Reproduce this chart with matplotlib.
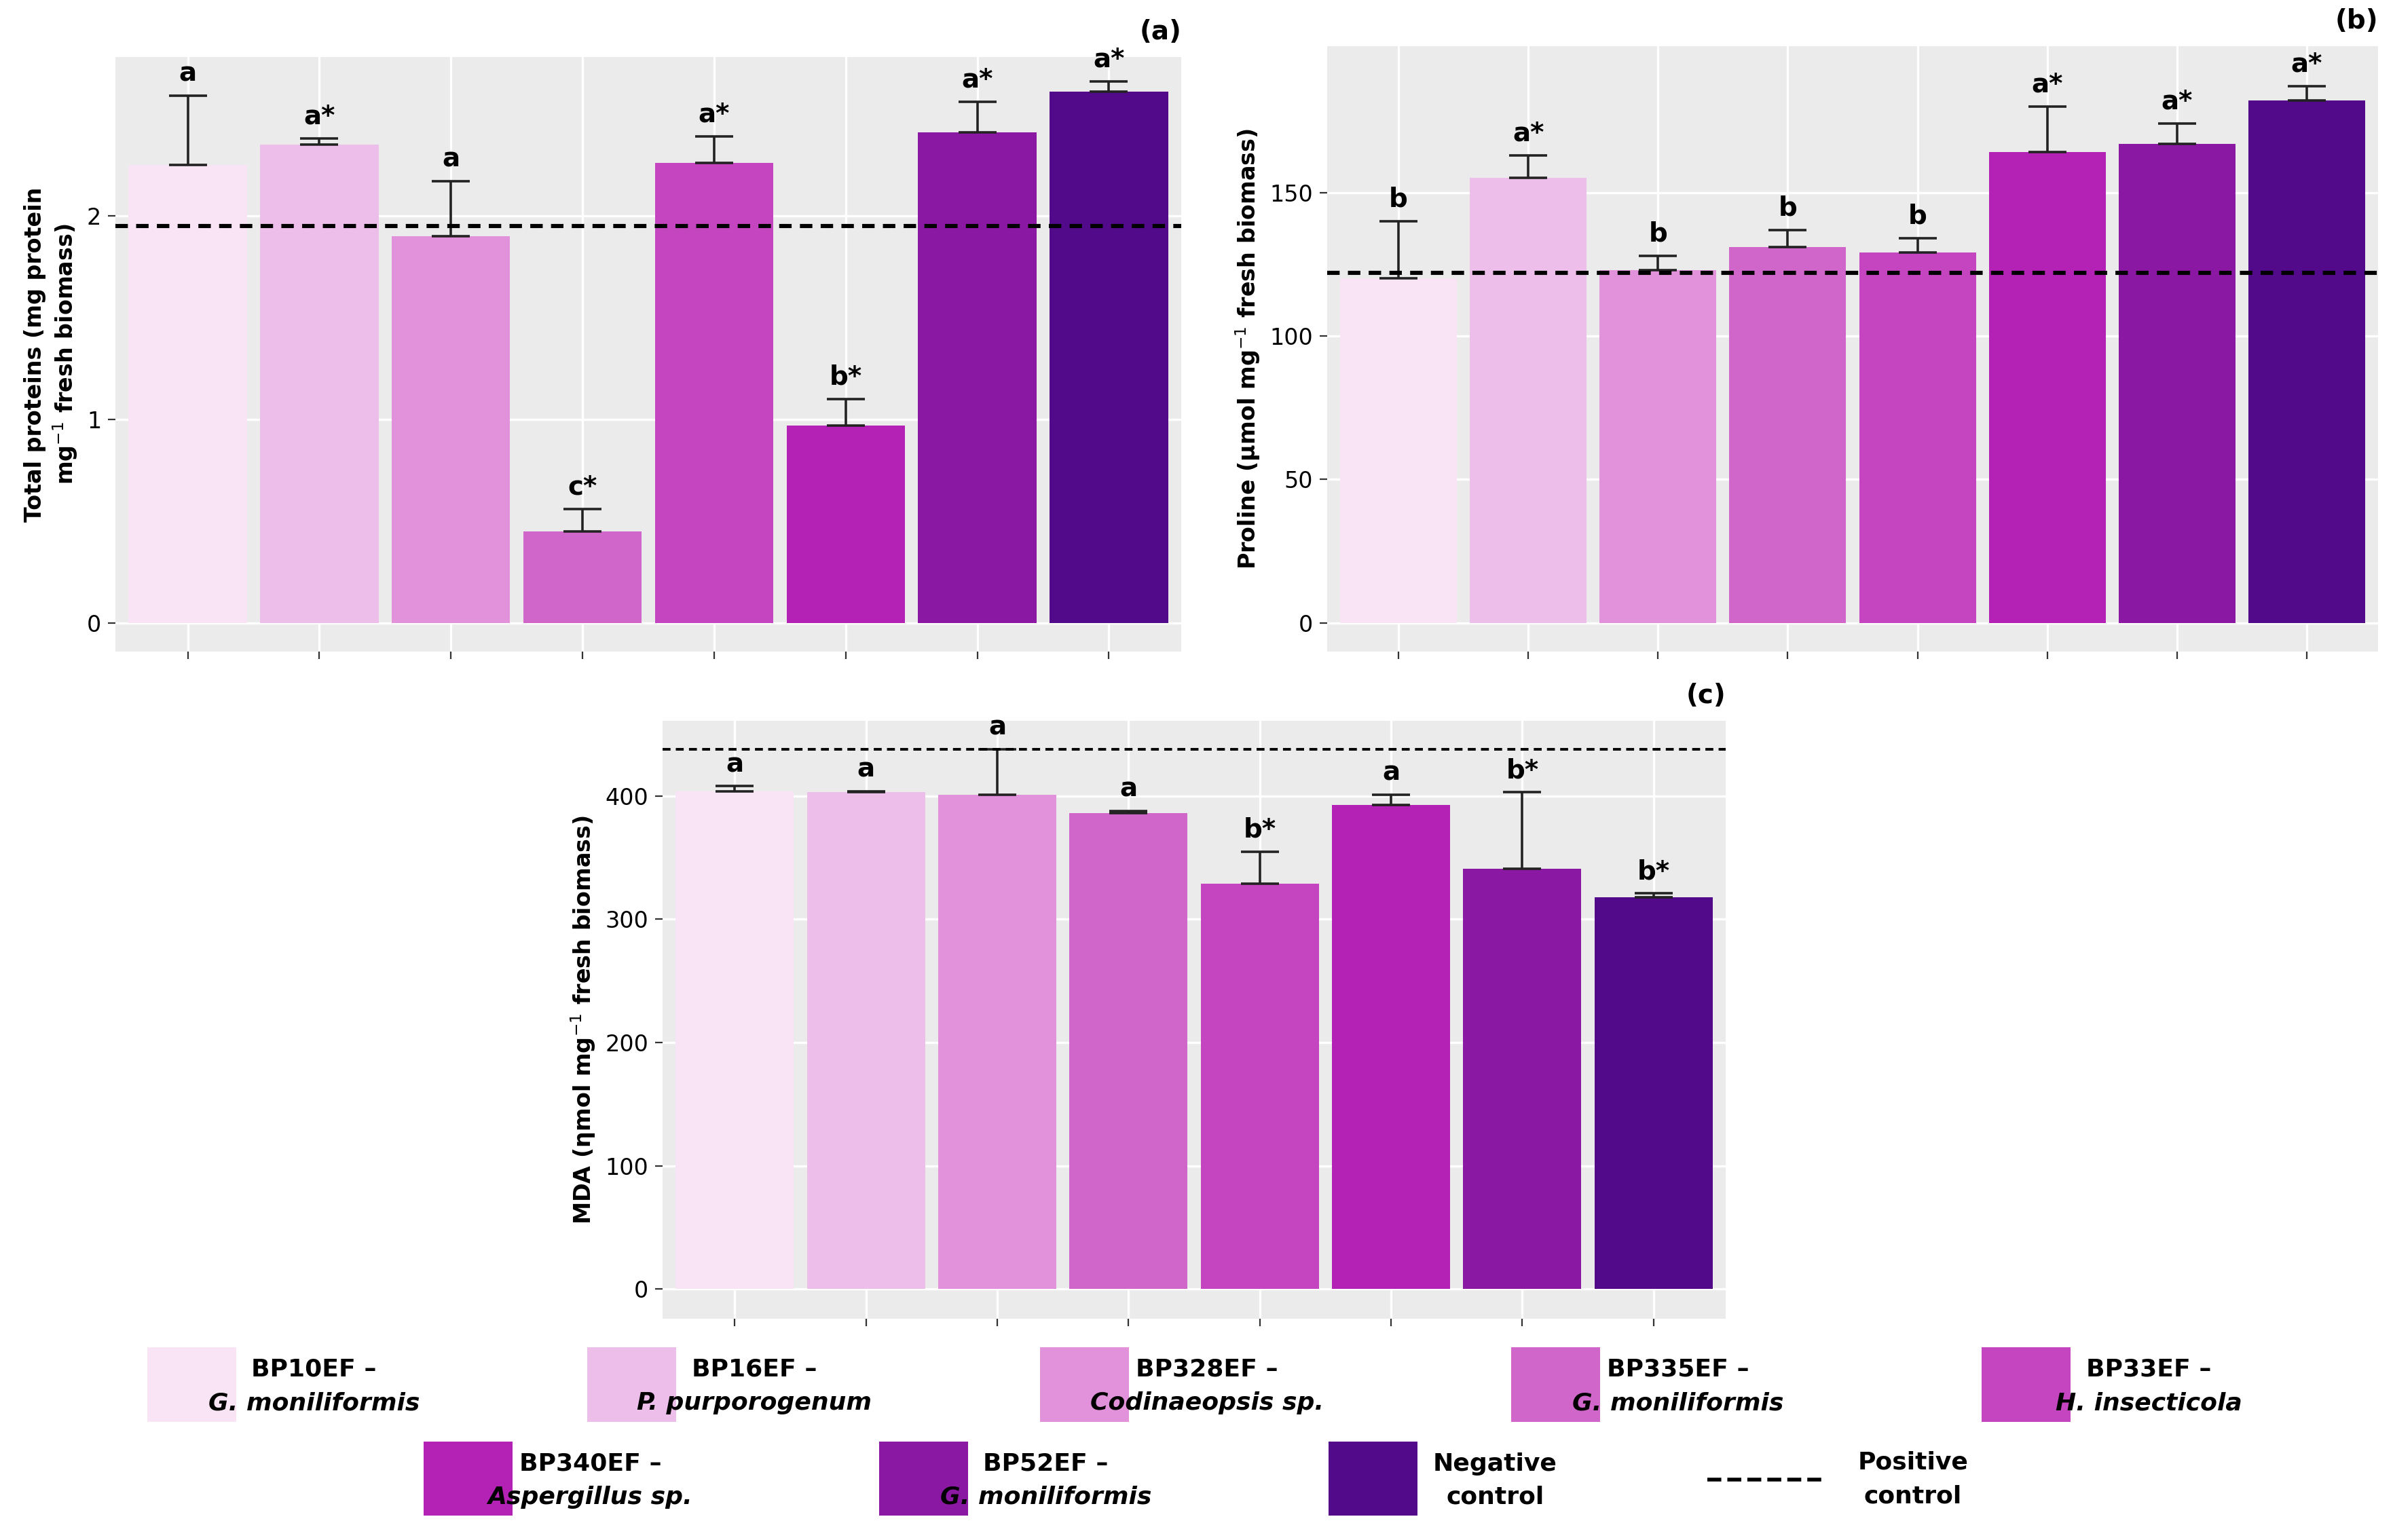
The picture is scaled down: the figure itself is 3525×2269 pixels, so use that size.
import numpy as np
import matplotlib
matplotlib.use("Agg")
import matplotlib.pyplot as plt
from matplotlib.patches import Rectangle
from matplotlib.lines import Line2D

plt.rcParams['font.family'] = ['Liberation Sans Narrow', 'DejaVu Sans']

colors = ['#F8E4F4', '#EDBEE9', '#E291DB', '#D066C9', '#C445BF', '#B421B5', '#8B18A3', '#520A8A']
names = ['BP10EF –', 'BP16EF –', 'BP328EF –', 'BP335EF –', 'BP33EF –', 'BP340EF –', 'BP52EF –', 'Negative']
species = ['G. moniliformis', 'P. purporogenum', 'Codinaeopsis sp.', 'G. moniliformis', 'H. insecticola',
           'Aspergillus sp.', 'G. moniliformis', 'control']

prot = [2.25, 2.35, 1.90, 0.45, 2.26, 0.97, 2.41, 2.61]
prot_err = [0.34, 0.03, 0.27, 0.11, 0.13, 0.13, 0.15, 0.05]
prot_lab = ['a', 'a*', 'a', 'c*', 'a*', 'b*', 'a*', 'a*']
prot_pos = 1.95

prol = [120, 155, 123, 131, 129, 164, 167, 182]
prol_err = [20, 8, 5, 6, 5, 16, 7, 5]
prol_lab = ['b', 'a*', 'b', 'b', 'b', 'a*', 'a*', 'a*']
prol_pos = 122

mda = [404, 403, 401, 386, 329, 393, 341, 318]
mda_err = [4, 1, 37, 2, 26, 8, 62, 3]
mda_lab = ['a', 'a', 'a', 'a', 'b*', 'a', 'b*', 'b*']
mda_pos = 438

W, H = 3525, 2269
fig = plt.figure(figsize=(W / 200, H / 200), dpi=200)


def panel(rect, vals, errs, labs, pos, ylim, yticks, ylabel, tag, lw_dash):
    ax = fig.add_axes([rect[0] / W, 1 - rect[3] / H, (rect[2] - rect[0]) / W, (rect[3] - rect[1]) / H])
    ax.set_facecolor('#EBEBEB')
    x = np.arange(len(vals))
    ax.grid(True, color='white', linewidth=1.2)
    ax.set_axisbelow(True)
    ax.bar(x, vals, width=0.9, color=colors, zorder=2)
    ax.errorbar(x, vals, yerr=[np.zeros(len(vals)), errs], fmt='none', ecolor='#222222',
                elinewidth=1.3, capsize=10, capthick=1.3, zorder=3)
    rng = ylim[1] - ylim[0]
    for xi, v, e, l in zip(x, vals, errs, labs):
        ax.text(xi, v + e + rng * 0.015, l, ha='center', va='bottom', fontsize=14, fontweight='bold')
    ax.axhline(pos, color='black', linestyle='--', linewidth=lw_dash, dashes=(3, 2), zorder=4)
    ax.set_xlim(-0.55, len(vals) - 0.45)
    ax.set_ylim(*ylim)
    ax.set_yticks(yticks)
    ax.set_xticks(x)
    ax.set_xticklabels([])
    ax.tick_params(labelsize=12, length=4, color='#333333')
    for s in ax.spines.values():
        s.set_visible(False)
    ax.set_ylabel(ylabel, fontsize=12, fontweight='bold', family=['DejaVu Sans'])
    ax.text(1.0, 1.02, tag, transform=ax.transAxes, ha='right', va='bottom', fontsize=14, fontweight='bold',
            family=['DejaVu Sans'])
    return ax


panel((170, 84, 1740, 960), prot, prot_err, prot_lab, prot_pos, (-0.14, 2.78), [0, 1, 2],
      'Total proteins (mg protein\nmg$^{-1}$ fresh biomass)', '(a)', 2.2)
panel((1955, 68, 3503, 960), prol, prol_err, prol_lab, prol_pos, (-10, 201), [0, 50, 100, 150],
      'Proline (µmol mg$^{-1}$ fresh biomass)', '(b)', 2.2)
panel((976, 1062, 2542, 1943), mda, mda_err, mda_lab, mda_pos, (-24, 461), [0, 100, 200, 300, 400],
      'MDA (ηmol mg$^{-1}$ fresh biomass)', '(c)', 1.4)

# legend
sx, sy = W / 1560, H / 1015
row1 = [96, 383, 678, 985, 1292]
row2 = [276, 573, 866]
slots = [(px, 888) for px in row1] + [(px, 950) for px in row2]
for (px, py), c, n, sp in zip(slots, colors, names, species):
    fx, fy = px * sx / W, 1 - (py + 49) * sy / H
    fig.patches.append(Rectangle((fx, fy), 58 * sx / W, 49 * sy / H, transform=fig.transFigure,
                                 facecolor=c, edgecolor='none'))
    tx = (px + 90) * sx / W
    fig.text(tx + 0.012, fy + 0.70 * 49 * sy / H, n, ha='center', va='center', fontsize=13, fontweight='bold')
    st = 'normal' if sp == 'control' else 'italic'
    fig.text(tx + 0.012, fy + 0.25 * 49 * sy / H, sp, ha='center', va='center', fontsize=13,
             fontweight='bold', style=st)
ly = 1 - 975 * sy / H
fig.lines.append(Line2D([1113 * sx / W, 1190 * sx / W], [ly, ly], transform=fig.transFigure,
                        color='black', linestyle='--', linewidth=2))
fig.text(1247 * sx / W, ly + 0.011, 'Positive', ha='center', va='center', fontsize=13, fontweight='bold')
fig.text(1247 * sx / W, ly - 0.011, 'control', ha='center', va='center', fontsize=13, fontweight='bold')

fig.savefig('out.png', dpi=200, facecolor='white')
